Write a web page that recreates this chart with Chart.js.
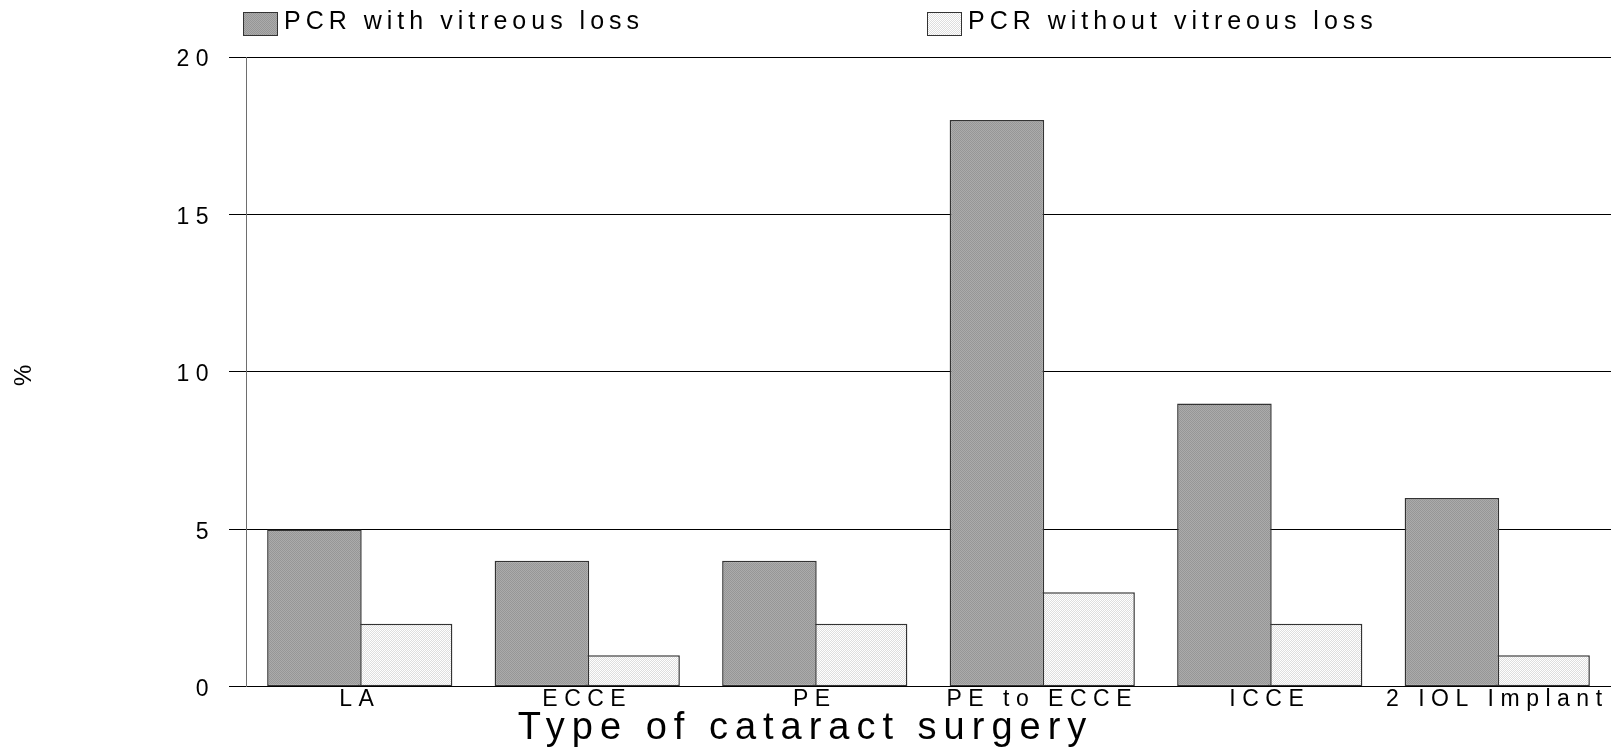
<!DOCTYPE html>
<html>
<head>
<meta charset="utf-8">
<title>PCR by type of cataract surgery</title>
<script src="https://cdn.jsdelivr.net/npm/chart.js@4.4.1/dist/chart.umd.min.js"></script>
<style>
  html, body { margin: 0; padding: 0; background: #fff; }
</style>
</head>
<body>
<canvas id="pcrChart" width="1611" height="753"></canvas>
<script>
// values (percent of cases)
const categories = ['LA', 'ECCE', 'PE', 'PE to ECCE', 'ICCE', '2 IOL Implant'];
const withVitreousLoss = [5, 4, 4, 18, 9, 6];
const withoutVitreousLoss = [2, 1, 2, 3, 2, 1];
const seriesNames = ['PCR with vitreous loss', 'PCR without vitreous loss'];
const yMax = 20;
const yStep = 5;
const xTitle = 'Type of cataract surgery';
const yTitle = '%';

const FONT = '"Liberation Sans", Arial, Helvetica, sans-serif';

const canvas = document.getElementById('pcrChart');
const ctx = canvas.getContext('2d');

// fine dotted fill, like the old print shading
function dotFill(a, b) {
  const tile = document.createElement('canvas');
  tile.width = 2;
  tile.height = 2;
  const g = tile.getContext('2d');
  g.fillStyle = a;
  g.fillRect(0, 0, 2, 2);
  g.fillStyle = b;
  g.fillRect(1, 0, 1, 1);
  g.fillRect(0, 1, 1, 1);
  return ctx.createPattern(tile, 'repeat');
}

const darkFill = dotFill('#969696', '#ababab');
const lightFill = dotFill('#ffffff', '#dedede');

// legend box left edges
const legendX = [243, 927];

// the source figure has wide letter spacing everywhere
const spacedText = {
  id: 'spacedText',
  beforeDraw(chart) {
    chart.ctx.letterSpacing = '7px';   // axis titles
  },
  afterDatasetsDraw(chart) {
    chart.ctx.letterSpacing = '6.5px'; // tick labels (drawn on layer z=1)
  },
  afterDraw(chart) {
    const c = chart.ctx;
    c.save();
    c.letterSpacing = '5px';
    c.font = '25px ' + FONT;
    c.textBaseline = 'alphabetic';
    chart.data.datasets.forEach((ds, i) => {
      const x = legendX[i];
      c.fillStyle = ds.backgroundColor;
      c.fillRect(x, 12, 35, 24);
      c.strokeStyle = '#333';
      c.lineWidth = 1;
      c.strokeRect(x + 0.5, 12.5, 34, 23);
      c.fillStyle = '#000';
      c.fillText(ds.label, x + 41, 28.5);
    });
    c.restore();
    c.letterSpacing = '0px';
  }
};

new Chart(ctx, {
  type: 'bar',
  data: {
    labels: categories,
    datasets: [
      {
        label: seriesNames[0],
        data: withVitreousLoss,
        backgroundColor: darkFill,
        borderColor: '#333',
        borderWidth: 1.5,
        borderSkipped: false
      },
      {
        label: seriesNames[1],
        data: withoutVitreousLoss,
        backgroundColor: lightFill,
        borderColor: '#333',
        borderWidth: 1.5,
        borderSkipped: false
      }
    ]
  },
  options: {
    responsive: false,
    animation: false,
    layout: { padding: { top: 57, right: 0, bottom: 9, left: 0 } },
    datasets: { bar: { categoryPercentage: 0.797, barPercentage: 1.043 } },
    plugins: {
      legend: { display: false },
      tooltip: { enabled: false },
      title: {
        display: true,
        position: 'bottom',
        text: xTitle,
        color: '#000',
        padding: 0,
        font: { family: FONT, size: 38, weight: 'normal', lineHeight: 0.82 }
      }
    },
    scales: {
      x: {
        grid: { display: false, drawTicks: false },
        border: { display: false },
        ticks: {
          z: 1,
          color: '#000',
          font: { family: FONT, size: 23, lineHeight: 1 },
          padding: 1,
          autoSkip: false,
          maxRotation: 0
        },
        afterFit: s => { s.height = 26; }
      },
      y: {
        min: 0,
        max: yMax,
        ticks: {
          z: 1,
          stepSize: yStep,
          color: '#000',
          font: { family: FONT, size: 23 },
          padding: 14,
          labelOffset: 3
        },
        grid: { color: '#000', lineWidth: 1, tickLength: 17, drawTicks: true },
        border: { display: true, color: '#6e6e6e', width: 1 },
        title: {
          display: true,
          text: yTitle,
          color: '#000',
          font: { family: FONT, size: 24 },
          padding: { top: 10, bottom: 0 }
        },
        afterFit: s => { s.width = 246; }
      }
    }
  },
  plugins: [spacedText]
});
</script>
</body>
</html>
